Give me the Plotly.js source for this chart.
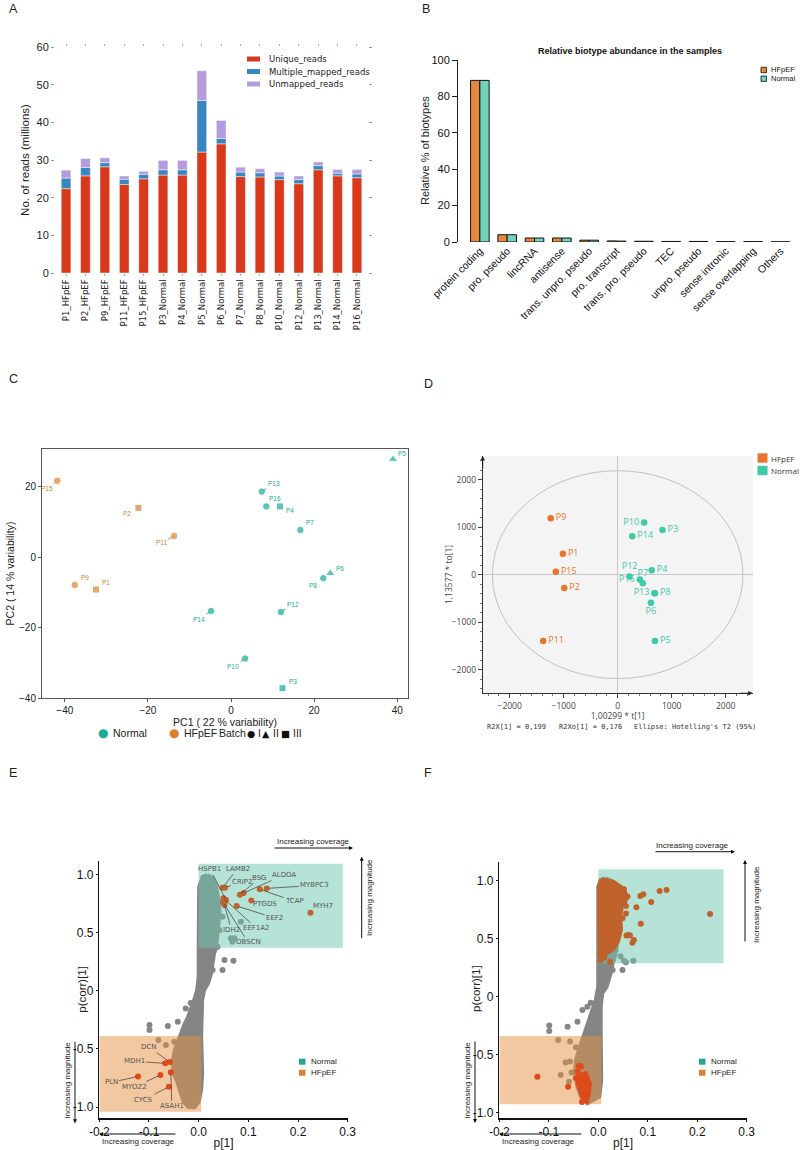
<!DOCTYPE html>
<html><head><meta charset="utf-8">
<script src="https://cdn.plot.ly/plotly-3.0.1.min.js"></script>
<style>html,body{margin:0;padding:0;background:#fff;overflow:hidden}#chart{width:800px;height:1150px}</style>
</head><body><div id="chart"></div>
<script>
// ================= DATA =================
// Panel A – read counts (millions)
const samplesA = ['P1_HFpEF','P2_HFpEF','P9_HFpEF','P11_HFpEF','P15_HFpEF','P3_Normal','P4_Normal','P5_Normal','P6_Normal','P7_Normal','P8_Normal','P10_Normal','P12_Normal','P13_Normal','P14_Normal','P16_Normal'];
const uniqueReads   = [22.4,25.8,28.2,23.5,25.0,26.0,26.0,32.1,34.3,25.6,25.5,24.8,23.7,27.4,25.8,25.3];
const multiReads    = [2.8,2.2,1.1,1.4,1.2,1.4,1.4,13.7,1.4,1.2,1.1,0.95,1.1,1.1,0.7,1.0];
const unmappedReads = [2.1,2.4,1.3,0.85,0.8,2.5,2.5,7.9,4.8,1.3,1.1,1.05,0.95,1.0,1.0,1.2];
const readSeries = ['Unique_reads','Multiple_mapped_reads','Unmapped_reads'];

// Panel B – biotypes (%)
const biotypes = ['protein coding','pro. pseudo','lincRNA','antisense','trans. unpro. pseudo','pro. transcript','trans. pro. pseudo','TEC','unpro. pseudo','sense intronic','sense overlapping','Others'];
const hfpefPct  = [88.8,4.0,2.2,2.2,1.0,0.6,0.4,0.3,0.3,0.2,0.2,0.1];
const normalPct = [88.8,4.0,2.2,2.2,1.0,0.5,0.4,0.3,0.3,0.2,0.2,0.1];

// Panel C – PCA
const pcaSamples = ['P15','P2','P11','P9','P1','P13','P16','P4','P7','P5','P8','P6','P12','P14','P10','P3'];
const pcaGroup   = ['HFpEF','HFpEF','HFpEF','HFpEF','HFpEF','Normal','Normal','Normal','Normal','Normal','Normal','Normal','Normal','Normal','Normal','Normal'];
const pcaBatch   = ['I','III','I','I','III','I','I','III','I','II','I','II','I','I','I','III'];
const pc1 = [-41.8,-22.3,-13.7,-37.6,-32.5,7.4,8.5,11.8,16.7,39.0,22.2,23.9,12.0,-4.8,3.4,12.4];
const pc2 = [21.7,14.0,6.0,-7.9,-9.2,18.6,14.4,14.4,7.7,27.8,-6.0,-4.6,-15.6,-15.3,-28.8,-37.2];
const batchLevels = ['I','II','III'];

// Panel D – OPLS-DA scores
const oplsSamples = ['P9','P1','P15','P2','P11','P10','P3','P14','P4','P12','P16','P7','P13','P8','P6','P5'];
const oplsGroup   = ['HFpEF','HFpEF','HFpEF','HFpEF','HFpEF','Normal','Normal','Normal','Normal','Normal','Normal','Normal','Normal','Normal','Normal','Normal'];
const tScore  = [-1240,-1015,-1145,-990,-1380,490,830,270,630,220,410,465,680,690,615,690];
const toScore = [1190,440,60,-280,-1400,1100,940,810,95,-40,-100,-180,-390,-390,-590,-1400];
const hotellingT2 = [2320,2190]; // ellipse semi-axes (t, to)

// Panel E – S-plot
const cloudEx = [0.018,0.028,0.035,0.040,0.042,0.039,0.038,0.035,0.031,0.028,0.025,0.019,0.011,0.007,0.005,0.005,0.006,0.007,0.005,0.000,-0.009,-0.021,-0.030,-0.036,-0.042,-0.050,-0.052,-0.048,-0.042,-0.036,-0.029,-0.021,-0.016,-0.009,-0.003,0.000,0.000,0.000,0.001,0.008];
const cloudEy = [0.994,0.966,0.893,0.779,0.665,0.550,0.436,0.364,0.321,0.235,0.149,0.064,0.006,-0.080,-0.252,-0.395,-0.538,-0.710,-0.853,-0.954,-1.002,-0.997,-0.954,-0.868,-0.796,-0.710,-0.610,-0.509,-0.438,-0.366,-0.295,-0.223,-0.151,-0.080,0.006,0.120,0.321,0.600,0.893,0.979];
const greyEx = [0.048,0.085,0.042,0.065,0.072,0.068,0.038,0.052,0.070,0.048,0.028,-0.099,-0.099,-0.062,-0.081,-0.042,-0.026,-0.016,-0.066,-0.049,-0.036];
const greyEy = [0.636,0.593,0.520,0.450,0.450,0.420,0.378,0.264,0.258,0.178,0.178,-0.295,-0.338,-0.303,-0.424,-0.266,-0.152,-0.106,-0.466,-0.438,-0.481];
const eNormalBox = [0, 0.29, 0.37, 1.09];
const eHfpefBox  = [-0.2, 0.005, -1.04, -0.39];
const eUpGenes = ['LAMB2','CRIP2','HSPB1','EEF1A2','OBSCN','IDH2','EEF2','BSG','ALDOA','PTGDS','TCAP','MYBPC3','MYH7'];
const eUpP     = [0.048,0.053,0.055,0.050,0.049,0.052,0.0765,0.083,0.0905,0.106,0.123,0.137,0.225];
const eUpCorr  = [0.885,0.885,0.779,0.794,0.760,0.736,0.728,0.825,0.839,0.776,0.871,0.879,0.670];
const eLowGenes = ['DCN','MDH1','ASAH1','MYOZ2','PLN','CYCS'];
const eLowP     = [-0.058,-0.067,-0.056,-0.077,-0.122,-0.060];
const eLowCorr  = [-0.613,-0.624,-0.701,-0.724,-0.736,-0.825];

// Panel F – S-plot
const cloudFx = [0.015,0.029,0.035,0.040,0.040,0.037,0.032,0.029,0.025,0.017,0.008,0.005,0.005,0.006,0.006,0.002,-0.022,-0.035,-0.042,-0.047,-0.045,-0.039,-0.032,-0.025,-0.019,-0.012,-0.005,0.000,0.000,0.005];
const cloudFy = [1.023,0.994,0.951,0.778,0.578,0.434,0.319,0.290,0.204,0.089,0.032,-0.083,-0.342,-0.486,-0.716,-0.859,-0.917,-0.859,-0.773,-0.658,-0.543,-0.457,-0.371,-0.284,-0.198,-0.112,-0.026,0.089,0.950,1.010];
const greyFx = [0.052,0.056,0.071,0.035,0.045,0.029,0.049,-0.099,-0.099,-0.062,-0.032,-0.042,-0.022,-0.015,-0.081,-0.057,-0.045,-0.066,-0.057,-0.076,-0.054,-0.059,-0.032];
const greyFy = [0.313,0.300,0.313,0.405,0.350,0.233,0.233,-0.247,-0.293,-0.256,-0.112,-0.213,-0.084,-0.049,-0.371,-0.385,-0.434,-0.566,-0.557,-0.672,-0.652,-0.730,-0.644];
const fNormalBox = [0, 0.253, 0.29, 1.10];
const fHfpefBox  = [-0.2, 0.006, -0.925, -0.336];
const upDenseFx = [0.006,0.030,0.052,0.058,0.048,0.044,0.046,0.040,0.030,0.015,0.004,0.002,0.002];
const upDenseFy = [1.015,0.995,0.930,0.850,0.780,0.700,0.580,0.480,0.410,0.370,0.330,0.600,0.950];
const upFx = [0.052,0.085,0.091,0.124,0.138,0.107,0.077,0.049,0.086,0.226,0.057,0.064,0.072,0.069,0.052,0.056,0.039,0.042,0.033,0.059,0.056,0.062,0.005,0.024,0.003,0.012];
const upFy = [0.928,0.871,0.885,0.914,0.922,0.819,0.773,0.678,0.632,0.716,0.529,0.529,0.491,0.468,0.808,0.784,0.606,0.578,0.463,0.865,0.720,0.534,0.319,0.304,0.370,0.340];
const lowDenseFx = [-0.039,-0.025,-0.017,-0.019,-0.023,-0.030,-0.037,-0.042];
const lowDenseFy = [-0.672,-0.658,-0.744,-0.830,-0.902,-0.888,-0.802,-0.744];
const lowFx = [-0.123,-0.061,-0.042,-0.039,-0.035,-0.045,-0.028,-0.033];
const lowFy = [-0.687,-0.773,-0.644,-0.595,-0.600,-0.700,-0.880,-0.905];

// ================= STYLE =================
const FONT = 'Liberation Sans, Arial, Helvetica, sans-serif';
const DJ = 'DejaVu Sans, sans-serif';
const OS = 'Open Sans, sans-serif';
const W = 800, H = 1150;
const dxr = (a,b) => [a/W, b/W];
const dyr = (top,bot) => [1-bot/H, 1-top/H];
const colA = {Unique_reads:'#d8391c', Multiple_mapped_reads:'#3786c0', Unmapped_reads:'#b39cdc'};
const colB = {HFpEF:'#e5883e', Normal:'#72d3bc'};
const colC = {HFpEF:'#d9812f', Normal:'#1aab98'};
const colD = {HFpEF:'#e8742c', Normal:'#3ec9a7'};
const colS = {Normal:'#1fa99a', HFpEF:'#d9822b'};
const symC = {I:'circle', II:'triangle-up', III:'square'};
const glyphC = {I:'\u25CF', II:'\u25B2', III:'\u25A0'};

const traces = [];
const annotations = [];
const shapes = [];

// legend key helpers (paper pixel positions)
function keyRect(x0,x1,y0,y1,fill,line){
  shapes.push({type:'rect', xref:'paper', yref:'paper', x0:x0/W, x1:x1/W, y0:1-y1/H, y1:1-y0/H, fillcolor:fill, line:line||{width:0}, layer:'above'});
}
function keyText(t,x,y,font,anchor){
  annotations.push({xref:'paper', yref:'paper', x:x/W, y:1-y/H, xanchor:anchor||'left', yanchor:'middle', showarrow:false, text:t, font:font});
}

// ---- A ----
const stackBase2 = uniqueReads.map((u,i)=>u+multiReads[i]);
const barLine = {color:'rgba(255,255,255,0.75)', width:0.6};
traces.push({type:'bar', x:samplesA, y:uniqueReads, name:readSeries[0], width:0.5, offset:-0.25, marker:{color:colA[readSeries[0]], line:barLine}, xaxis:'x', yaxis:'y'});
traces.push({type:'bar', x:samplesA, y:multiReads, base:uniqueReads, name:readSeries[1], width:0.5, offset:-0.25, marker:{color:colA[readSeries[1]], line:barLine}, xaxis:'x', yaxis:'y'});
traces.push({type:'bar', x:samplesA, y:unmappedReads, base:stackBase2, name:readSeries[2], width:0.5, offset:-0.25, marker:{color:colA[readSeries[2]], line:barLine}, xaxis:'x', yaxis:'y'});
readSeries.forEach((s,i)=>{
  const yc = 59 + i*12.5;
  keyRect(247, 260, yc-2.5, yc+2.5, colA[s]);
  keyText(s, 266.5, yc, {family:DJ, size:8.5, color:'#222'});
});

// ---- B ----
traces.push({type:'bar', x:biotypes, y:hfpefPct, name:'HFpEF', width:0.34, offset:-0.34, marker:{color:colB.HFpEF, line:{color:'#111', width:1}}, xaxis:'x2', yaxis:'y2'});
traces.push({type:'bar', x:biotypes, y:normalPct, name:'Normal', width:0.34, offset:0, marker:{color:colB.Normal, line:{color:'#111', width:1}}, xaxis:'x2', yaxis:'y2'});
['HFpEF','Normal'].forEach((g,i)=>{
  const yc = 70 + i*8.7;
  keyRect(761, 766.5, yc-2.7, yc+2.7, colB[g], {color:'#111', width:0.8});
  keyText(g, 769, yc, {family:FONT, size:7.5, color:'#111'});
});

// ---- C ----
['Normal','HFpEF'].forEach(g=>{
  const idx = pcaGroup.map((v,i)=>v===g?i:-1).filter(i=>i>=0);
  traces.push({type:'scatter', mode:'markers', x:idx.map(i=>pc1[i]), y:idx.map(i=>pc2[i]), name:g,
    marker:{color:colC[g], size:idx.map(i=>pcaBatch[i]==='I'?7.5:(pcaBatch[i]==='II'?8.5:7)), symbol:idx.map(i=>symC[pcaBatch[i]])},
    xaxis:'x3', yaxis:'y3', hoverinfo:'skip'});
});
const fC = {family:FONT, size:10.5, color:'#222'};
keyText('\u25CF', 103, 733, {family:DJ, size:12, color:colC.Normal}, 'center');
keyText('Normal', 111, 733, fC);
keyText('\u25CF', 174, 733, {family:DJ, size:12, color:colC.HFpEF}, 'center');
keyText('HFpEF', 182, 733, fC);
keyText('Batch', 217, 733, fC);
const batchX = {I:[251,255.5], II:[266,271], III:[285.5,290.5]};
batchLevels.forEach(b=>{
  keyText(glyphC[b], batchX[b][0], 733, {family:DJ, size:9.5, color:'#111'}, 'center');
  keyText(b, batchX[b][1], 733, fC);
});
const labC = {P15:[-10,8,1],P2:[-11,6,0],P11:[-13,7,1],P9:[10,-7,0],P1:[10,-7,0],P13:[12,-8,1],P16:[9,-8,0],P4:[10,4,0],P7:[10,-7,0],P5:[9,-6,0],P8:[-10,7,0],P6:[10,-5,0],P12:[12,-8,1],P14:[-12,8,1],P10:[-12,8,1],P3:[10,-7,0]};
pcaSamples.forEach((s,i)=>{
  const o = labC[s], c = colC[pcaGroup[i]];
  annotations.push({xref:'x3', yref:'y3', x:pc1[i], y:pc2[i], text:s, font:{family:FONT, size:6.5, color:c},
    showarrow:true, ax:o[0], ay:o[1], arrowhead:0, arrowwidth:0.9, standoff:2, startstandoff:0,
    arrowcolor:o[2]?c:'rgba(0,0,0,0)'});
});

// ---- D ----
const posD = {P9:'middle right',P1:'middle right',P15:'middle right',P2:'middle right',P11:'middle right',P10:'middle left',P3:'middle right',P14:'middle right',P4:'middle right',P12:'top center',P16:'middle left',P7:'top center',P13:'middle left',P8:'middle right',P6:'bottom center',P5:'middle right'};
['HFpEF','Normal'].forEach((g,k)=>{
  const idx = oplsGroup.map((v,i)=>v===g?i:-1).filter(i=>i>=0);
  traces.push({type:'scatter', mode:'markers+text', x:idx.map(i=>tScore[i]), y:idx.map(i=>toScore[i]), name:g,
    text:idx.map(i=>oplsSamples[i]), textposition:idx.map(i=>posD[oplsSamples[i]]),
    textfont:{family:OS, size:9, color:colD[g]}, marker:{color:colD[g], size:6.5},
    xaxis:'x4', yaxis:'y4', hoverinfo:'skip', cliponaxis:false});
  const yc = 458 + k*12.5;
  keyRect(757.5, 767.5, yc-4.7, yc+4.7, colD[g]);
  keyText(g, 768.5, yc, {family:OS, size:8, color:'#333'});
});
shapes.push({type:'rect', xref:'x4 domain', yref:'y4 domain', x0:0, x1:1, y0:0, y1:1, fillcolor:'#f4f4f4', line:{width:0}, layer:'below'});
shapes.push({type:'circle', xref:'x4', yref:'y4', x0:-hotellingT2[0], x1:hotellingT2[0], y0:-hotellingT2[1], y1:hotellingT2[1], line:{color:'#b4b4b4', width:0.8}, layer:'below'});
annotations.push({xref:'x4 domain', yref:'y4 domain', x:0, y:1, ax:0, ay:14, showarrow:true, arrowhead:2, arrowsize:0.9, arrowwidth:1, arrowcolor:'#222', text:''});
annotations.push({xref:'x4 domain', yref:'y4 domain', x:1, y:0, ax:-14, ay:0, showarrow:true, arrowhead:2, arrowsize:0.9, arrowwidth:1, arrowcolor:'#222', text:''});
const footD = [['R2X[1] = 0,199',485],['R2Xo[1] = 0,176',557],["Ellipse: Hotelling's T2 (95%)",632]];
footD.forEach(f=>keyText(f[0], f[1], 727, {family:'DejaVu Sans Mono, monospace', size:7, color:'#333'}));
annotations.push({xref:'paper', yref:'paper', x:448/W, y:1-575/H, xanchor:'center', yanchor:'middle', showarrow:false, textangle:-90, text:'1,13577 * to[1]', font:{family:OS, size:8.5, color:'#444'}});
annotations.push({xref:'paper', yref:'paper', x:425/W, y:1-151/H, xanchor:'center', yanchor:'middle', showarrow:false, textangle:-90, text:'Relative % of biotypes', font:{family:FONT, size:11, color:'#222'}});

// ---- E / F helpers ----
function polyTrace(x,y,color,xa,ya,lw){
  return {type:'scatter', mode:'lines', x:x.concat([x[0]]), y:y.concat([y[0]]), fill:'toself', fillcolor:color,
    line:{color:color, width:lw}, xaxis:xa, yaxis:ya, showlegend:false, hoverinfo:'skip'};
}
function boxTrace(b,fill,xa,ya){
  return {type:'scatter', mode:'lines', x:[b[0],b[1],b[1],b[0],b[0]], y:[b[2],b[2],b[3],b[3],b[2]], fill:'toself', fillcolor:fill,
    line:{color:'rgba(0,0,0,0)', width:0}, xaxis:xa, yaxis:ya, showlegend:false, hoverinfo:'skip'};
}
function ptsTrace(x,y,color,xa,ya,size){
  return {type:'scatter', mode:'markers', x:x, y:y, marker:{color:color, size:size||6}, xaxis:xa, yaxis:ya, showlegend:false, hoverinfo:'skip', cliponaxis:false};
}
const GREY = '#858585', TEALBOX = 'rgba(110,200,175,0.5)', ORANGEBOX = 'rgba(229,145,65,0.5)';
const UPC = '#c0622c', LOWC = '#dd4a1b';

// ---- E ----
traces.push(polyTrace(cloudEx, cloudEy, GREY, 'x5','y5',4));
traces.push(ptsTrace(greyEx, greyEy, GREY, 'x5','y5',6));
traces.push(boxTrace(eNormalBox, TEALBOX, 'x5','y5'));
traces.push(boxTrace(eHfpefBox, ORANGEBOX, 'x5','y5'));
traces.push(ptsTrace(eUpP, eUpCorr, UPC, 'x5','y5',6));
traces.push(ptsTrace(eLowP, eLowCorr, LOWC, 'x5','y5',6));
const labE = {LAMB2:[15,-19,1],CRIP2:[18,-6,1],HSPB1:[-16,-31,1],EEF1A2:[33,30,1],OBSCN:[25,40,1],IDH2:[7,25,1],EEF2:[38,12,1],BSG:[20,-17,1],ALDOA:[40,-18,1],PTGDS:[14,4,0],TCAP:[35,12,1],MYBPC3:[48,-3,1],MYH7:[13,-7,0],
  DCN:[-21,-15,1],MDH1:[-31,-2,1],ASAH1:[1,34,1],MYOZ2:[-26,12,1],PLN:[-27,6,1],CYCS:[-25,13,1]};
function geneAnn(g,x,y){
  const o = labE[g];
  annotations.push({xref:'x5', yref:'y5', x:x, y:y, text:g, font:{family:DJ, size:7, color:'#555'}, showarrow:true, ax:o[0], ay:o[1],
    arrowhead:0, arrowwidth:0.7, standoff:2, arrowcolor:o[2]?'#3a3a3a':'rgba(0,0,0,0)'});
}
eUpGenes.forEach((g,i)=>geneAnn(g,eUpP[i],eUpCorr[i]));
eLowGenes.forEach((g,i)=>geneAnn(g,eLowP[i],eLowCorr[i]));

// ---- F ----
traces.push(polyTrace(cloudFx, cloudFy, GREY, 'x6','y6',4));
traces.push(ptsTrace(greyFx, greyFy, GREY, 'x6','y6',6));
traces.push(boxTrace(fNormalBox, TEALBOX, 'x6','y6'));
traces.push(boxTrace(fHfpefBox, ORANGEBOX, 'x6','y6'));
traces.push(polyTrace(upDenseFx, upDenseFy, UPC, 'x6','y6',4));
traces.push(ptsTrace(upFx, upFy, UPC, 'x6','y6',6));
traces.push(polyTrace(lowDenseFx, lowDenseFy, LOWC, 'x6','y6',4));
traces.push(ptsTrace(lowFx, lowFy, LOWC, 'x6','y6',6));

// legends E/F
[0,400].forEach(off=>{
  ['Normal','HFpEF'].forEach((g,k)=>{
    const yc = 1061.7 + k*11;
    keyRect(299+off, 305.5+off, yc-3, yc+3, colS[g]);
    keyText(g, 308.5+off, yc, {family:FONT, size:8, color:'#222'});
  });
});

// arrows & texts E/F (paper px)
function arrowPx(hx,hy,ax,ay){
  annotations.push({xref:'paper', yref:'paper', x:hx/W, y:1-hy/H, ax:ax, ay:ay, showarrow:true, arrowhead:2, arrowsize:0.8, arrowwidth:1, arrowcolor:'#111', text:''});
}
function textPx(t,x,y,angle){
  annotations.push({xref:'paper', yref:'paper', x:x/W, y:1-y/H, xanchor:'center', yanchor:'middle', showarrow:false, text:t, textangle:angle||0, font:{family:FONT, size:8, color:'#222'}});
}
// E
textPx('Increasing coverage', 313, 841.5); arrowPx(353, 848, -80, 0);
textPx('Increasing magnitude', 369, 898, -90); arrowPx(361.7, 856.7, 0, 83);
textPx('Increasing coverage', 138, 1141.5); arrowPx(99, 1134, 78, 0);
textPx('Increasing magnitude', 66.7, 1080, -90); arrowPx(75, 1123.3, 0, -83);
// F
textPx('Increasing coverage', 692, 845.5); arrowPx(735, 851.7, -81, 0);
textPx('Increasing magnitude', 756, 905, -90); arrowPx(745, 860, 0, 83);
textPx('Increasing coverage', 538, 1141.5); arrowPx(499, 1134, 84, 0);
textPx('Increasing magnitude', 466.7, 1080, -90); arrowPx(475, 1123, 0, -83);

// y titles E/F
[['p(corr)[1]',81.7,989],['p(corr)[1]',476,989]].forEach(t=>annotations.push({xref:'paper', yref:'paper', x:t[1]/W, y:1-t[2]/H, xanchor:'center', yanchor:'middle', showarrow:false, textangle:-90, text:t[0], font:{family:FONT, size:11.5, color:'#222'}}));

// B title
annotations.push({xref:'paper', yref:'paper', x:630/W, y:1-51/H, xanchor:'center', yanchor:'middle', showarrow:false, text:'<b>Relative biotype abundance in the samples</b>', font:{family:FONT, size:9, color:'#111'}});

// panel letters
[['A',7,9],['B',420,9],['C',7,379],['D',422,384],['E',7,773],['F',422,773]].forEach(p=>keyText(p[0], p[1], p[2], {family:FONT, size:12.5, color:'#222'}));

// ================= LAYOUT =================
const noGrid = {showgrid:false, zeroline:false, automargin:false};
const layout = {
  width:W, height:H, margin:{l:0,r:0,t:0,b:0}, paper_bgcolor:'#fff', plot_bgcolor:'rgba(0,0,0,0)',
  font:{family:FONT, size:10, color:'#222'}, barmode:'group', hovermode:false, showlegend:false,
  xaxis:Object.assign({}, noGrid, {domain:dxr(55,368), range:[-0.57,15.57], anchor:'y', type:'category', tickangle:-90, tickfont:{family:DJ, size:8.5, color:'#222'}, ticks:'outside', ticklen:2, tickcolor:'#aaa', mirror:'ticks', showline:false}),
  yaxis:Object.assign({}, noGrid, {domain:dyr(47,273), range:[0,60], anchor:'x', tickvals:[0,10,20,30,40,50,60], ticks:'outside', ticklen:3, tickcolor:'#999', mirror:'ticks', tickfont:{size:11, color:'#222'}, showline:false, title:{text:'No. of reads (millions)', font:{size:11.5}, standoff:4}}),
  xaxis2:Object.assign({}, noGrid, {domain:dxr(458,793), range:[-0.8,11.46], anchor:'y2', type:'category', tickangle:-45, tickfont:{size:10.5, color:'#111'}, ticks:'', showline:false}),
  yaxis2:Object.assign({}, noGrid, {domain:dyr(60,242), range:[0,100], anchor:'x2', tickvals:[0,20,40,60,80,100], ticks:'outside', ticklen:5, tickcolor:'#222', showline:true, linecolor:'#222', linewidth:1, tickfont:{size:11, color:'#111'}}),
  xaxis3:Object.assign({}, noGrid, {domain:dxr(42,408), range:[-45.5,42.6], anchor:'y3', tickvals:[-40,-20,0,20,40], ticks:'outside', ticklen:3, tickcolor:'#555', showline:true, mirror:true, linecolor:'#555', linewidth:1, tickfont:{size:10, color:'#222'}, title:{text:'PC1 ( 22 % variability)', font:{size:10.5}, standoff:0}}),
  yaxis3:Object.assign({}, noGrid, {domain:dyr(449,698), range:[-40,30.7], anchor:'x3', tickvals:[-40,-20,0,20], ticks:'outside', ticklen:3, tickcolor:'#555', showline:true, mirror:true, linecolor:'#555', linewidth:1, tickfont:{size:10, color:'#222'}, title:{text:'PC2 ( 14 % variability)', font:{size:10.5}, standoff:2}}),
  xaxis4:Object.assign({}, noGrid, {domain:dxr(482.7,752.7), range:[-2500,2500], anchor:'y4', dtick:1000, tick0:0, ticks:'outside', ticklen:4, tickcolor:'#444', minor:{dtick:200, tick0:0, ticks:'outside', ticklen:2, tickcolor:'#777'}, showline:true, linecolor:'#333', linewidth:1, zeroline:true, zerolinecolor:'#c8c8c8', zerolinewidth:1, tickfont:{family:OS, size:8.5, color:'#444'}, title:{text:'1,00299 * t[1]', font:{family:OS, size:8.5, color:'#444'}, standoff:3}}),
  yaxis4:Object.assign({}, noGrid, {domain:dyr(456,693.3), range:[-2500,2500], anchor:'x4', dtick:1000, tick0:0, ticks:'outside', ticklen:4, tickcolor:'#444', minor:{dtick:200, tick0:0, ticks:'outside', ticklen:2, tickcolor:'#777'}, showline:true, linecolor:'#333', linewidth:1, zeroline:true, zerolinecolor:'#c8c8c8', zerolinewidth:1, tickfont:{family:OS, size:8.5, color:'#444'}}),
  xaxis5:Object.assign({}, noGrid, {domain:dxr(99.3,347.7), range:[-0.2,0.3], anchor:'y5', tickvals:[-0.2,-0.1,0,0.1,0.2,0.3], ticktext:['-0.2','-0.1','0.0','0.1','0.2','0.3'], ticks:'outside', ticklen:2, tickcolor:'#111', showline:true, linecolor:'#111', linewidth:1.5, tickfont:{size:12, color:'#111'}, title:{text:'p[1]', font:{size:12}, standoff:2}}),
  yaxis5:Object.assign({}, noGrid, {domain:dyr(860.7,1118.3), range:[-1.096,1.117], anchor:'x5', tickvals:[-1,-0.5,0,0.5,1], ticktext:['-1.0','-0.5','0','0.5','1.0'], ticks:'outside', ticklen:2, tickcolor:'#111', showline:true, linecolor:'#111', linewidth:1.5, tickfont:{size:12, color:'#111'}}),
  xaxis6:Object.assign({}, noGrid, {domain:dxr(499.3,746.7), range:[-0.2,0.3], anchor:'y6', tickvals:[-0.2,-0.1,0,0.1,0.2,0.3], ticktext:['-0.2','-0.1','0.0','0.1','0.2','0.3'], ticks:'outside', ticklen:2, tickcolor:'#111', showline:true, linecolor:'#111', linewidth:1.5, tickfont:{size:12, color:'#111'}, title:{text:'p[1]', font:{size:12}, standoff:2}}),
  yaxis6:Object.assign({}, noGrid, {domain:dyr(861.7,1118.3), range:[-1.046,1.166], anchor:'x6', tickvals:[-1,-0.5,0,0.5,1], ticktext:['-1.0','-0.5','0','0.5','1.0'], ticks:'outside', ticklen:2, tickcolor:'#111', showline:true, linecolor:'#111', linewidth:1.5, tickfont:{size:12, color:'#111'}}),
  annotations:annotations, shapes:shapes
};
Plotly.newPlot('chart', traces, layout, {displayModeBar:false, staticPlot:true});
</script></body></html>
